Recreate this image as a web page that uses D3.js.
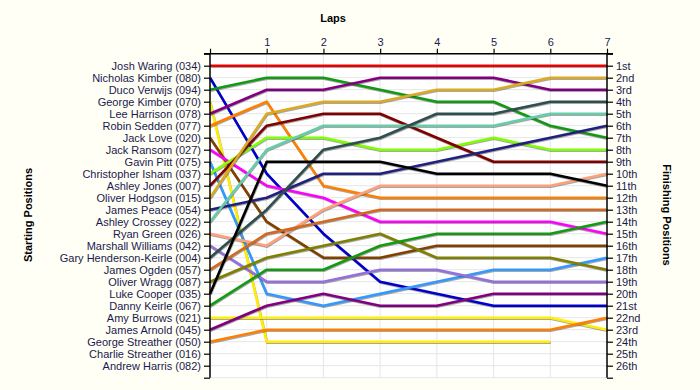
<!DOCTYPE html>
<html><head><meta charset="utf-8">
<script src="https://cdn.jsdelivr.net/npm/d3@7"></script>
<style>
body{margin:0;background:#fffff5;}
svg{display:block;}
text{font-family:"Liberation Sans",Arial,sans-serif;}
</style></head>
<body><svg id="c" width="700" height="390"></svg>
<script>
const drivers = ["Josh Waring (034)","Nicholas Kimber (080)","Duco Verwijs (094)","George Kimber (070)","Lee Harrison (078)","Robin Sedden (077)","Jack Love (020)","Jack Ransom (027)","Gavin Pitt (075)","Christopher Isham (037)","Ashley Jones (007)","Oliver Hodgson (015)","James Peace (054)","Ashley Crossey (022)","Ryan Green (026)","Marshall Williams (042)","Gary Henderson-Keirle (004)","James Ogden (057)","Oliver Wragg (087)","Luke Cooper (035)","Danny Keirle (067)","Amy Burrows (021)","James Arnold (045)","George Streather (050)","Charlie Streather (016)","Andrew Harris (082)"];
const colors = ["#ee0000","#0000cc","#129a12","#ffee00","#800080","#ff8000","#804000","#ff00ff","#3399ff","#80ff00","#800000","#dcaa20","#202080","#66cdaa","#ffa07a","#9370db","#2f4f4f","#d2691e","#808000","#000000","#129a12","#ffee00","#800080","#ff8000","#ee0000","#0000cc"];
const laps = [0,1,2,3,4,5,6,7];
const lapLabels = ["","1","2","3","4","5","6","7"];
const finishLabels = ["1st","2nd","3rd","4th","5th","6th","7th","8th","9th","10th","11th","12th","13th","14th","15th","16th","17th","18th","19th","20th","21st","22nd","23rd","24th","25th","26th"];
// position at lap 0 (start) through lap 7
const positions = [
 [1,1,1,1,1,1,1,1],
 [2,10,15,19,20,21,21,21],
 [3,2,2,3,4,4,6,7],
 [4,24,24,24,24,24,24,null],
 [5,3,3,2,2,2,3,3],
 [6,4,11,12,12,12,12,12],
 [7,14,17,17,16,16,16,16],
 [8,11,12,14,14,14,14,15],
 [9,20,21,20,19,18,18,17],
 [10,7,7,8,8,7,8,8],
 [11,6,5,5,7,9,9,9],
 [12,5,4,4,3,3,2,2],
 [13,12,10,10,9,8,7,6],
 [14,8,6,6,6,6,5,5],
 [15,16,13,11,11,11,11,10],
 [16,19,19,18,18,19,19,19],
 [17,13,8,7,5,5,4,4],
 [18,15,14,13,13,13,13,13],
 [19,17,16,15,17,17,17,18],
 [20,9,9,9,10,10,10,11],
 [21,18,18,16,15,15,15,14],
 [22,22,22,22,22,22,22,23],
 [23,21,20,21,21,20,20,20],
 [24,23,23,23,23,23,23,22],
 [],
 []
];

const svg = d3.select("#c");
const pL = 210, pR = 607, pT = 53.7, pB = 377.7;
const x = d3.scaleLinear().domain([0,7]).range([pL,pR]);
const y = d3.scaleLinear().domain([0,27]).range([pT,pB]);
const ticksY = d3.range(0,28);

svg.append("rect").attr("x",pL).attr("y",pT).attr("width",pR-pL).attr("height",pB-pT).attr("fill","#ffffff");

// grid
svg.append("g").selectAll("line").data(d3.range(1,27)).join("line")
  .attr("x1",pL).attr("x2",pR).attr("y1",d=>y(d)).attr("y2",d=>y(d))
  .attr("stroke","#e6e6e6").attr("stroke-width",1);
svg.append("g").selectAll("line").data(d3.range(1,7)).join("line")
  .attr("y1",pT).attr("y2",pB).attr("x1",d=>x(d)).attr("x2",d=>x(d))
  .attr("stroke","#e6e6e6").attr("stroke-width",1);
svg.append("line").attr("x1",pL).attr("x2",pR).attr("y1",pB).attr("y2",pB).attr("stroke","#e6e6e6");

// lines
const line = d3.line().defined(d=>d.p!=null).x(d=>x(d.lap)).y(d=>y(d.p));
const series = positions.map((arr,i)=>({color:colors[i], pts:arr.map((p,j)=>({lap:laps[j],p:p}))})).filter(s=>s.pts.length>0);
const gl = svg.append("g");
series.forEach(s=>{
  gl.append("path").attr("d",line(s.pts)).attr("fill","none").attr("stroke","rgba(60,60,60,0.45)")
    .attr("stroke-width",2.6).attr("transform","translate(0.5,1)").attr("stroke-linejoin","round");
  gl.append("path").attr("d",line(s.pts)).attr("fill","none").attr("stroke",s.color)
    .attr("stroke-width",2.6).attr("stroke-linejoin","round");
});

const labCol = "#1a1a50";
const la = svg.append("g").attr("transform",`translate(${pL},0)`)
  .call(d3.axisLeft(y).tickValues(ticksY).tickSize(6).tickPadding(3).tickFormat(d=>(d>=1&&d<=26)?drivers[d-1]:""));
const ra = svg.append("g").attr("transform",`translate(${pR},0)`)
  .call(d3.axisRight(y).tickValues(ticksY).tickSize(6).tickPadding(3).tickFormat(d=>(d>=1&&d<=26)?finishLabels[d-1]:""));
const ta = svg.append("g").attr("transform",`translate(0,${pT})`)
  .call(d3.axisTop(x).tickValues(laps).tickSize(5).tickPadding(3).tickFormat((d,i)=>lapLabels[i]));
[la,ra,ta].forEach(a=>{
  a.select(".domain").attr("stroke","#000").attr("stroke-width",1.5);
  a.selectAll(".tick line").attr("stroke","#000").attr("stroke-width",1.2);
  a.selectAll("text").attr("fill",labCol).attr("font-size",11).attr("font-family","'Liberation Sans',Arial,sans-serif");
});
ta.select(".domain").attr("d",`M${pL-6},0H${pR+6}`);
la.select(".domain").attr("d",`M0,${pT}V${pB}`);
ra.select(".domain").attr("d",`M0,${pT}V${pB}`);

svg.append("text").attr("x",333).attr("y",22).attr("text-anchor","middle")
  .attr("font-weight","bold").attr("font-size",11).attr("fill","#000").text("Laps");
svg.append("text").attr("transform","translate(32,215) rotate(-90)").attr("text-anchor","middle")
  .attr("font-weight","bold").attr("font-size",11).attr("fill","#000").text("Starting Positions");
svg.append("text").attr("transform","translate(663,215) rotate(90)").attr("text-anchor","middle")
  .attr("font-weight","bold").attr("font-size",11).attr("fill","#000").text("Finishing Positions");
</script></body></html>
